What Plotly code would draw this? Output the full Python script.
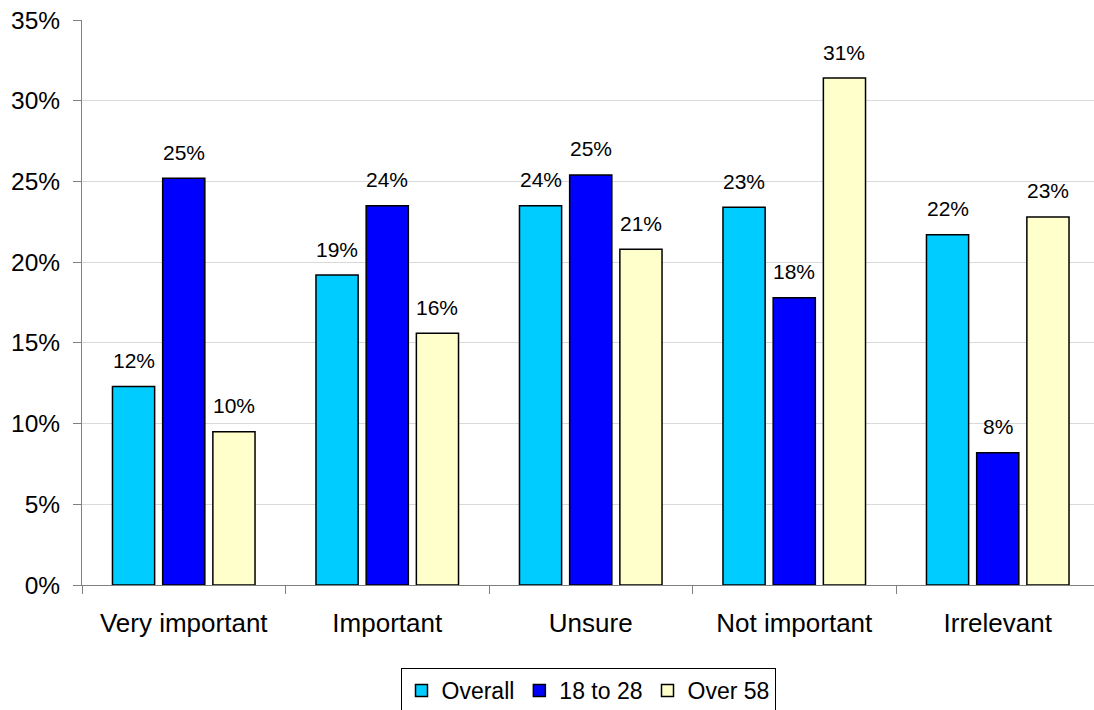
import plotly.graph_objects as go

categories = ["Very important", "Important", "Unsure", "Not important", "Irrelevant"]
series_names = ["Overall", "18 to 28", "Over 58"]
overall = [12.3, 19.2, 23.5, 23.4, 21.7]
age_18_28 = [25.2, 23.5, 25.4, 17.8, 8.2]
over_58 = [9.5, 15.6, 20.8, 31.4, 22.8]
colors = ["#00CCFF", "#0000FF", "#FFFFCC"]
y_ticks = [0, 5, 10, 15, 20, 25, 30, 35]

FONT = "Arial, Liberation Sans, sans-serif"
fig = go.Figure()
all_series = [overall, age_18_28, over_58]
for name, vals, col in zip(series_names, all_series, colors):
    fig.add_trace(go.Bar(
        x=categories, y=vals, name=name,
        marker=dict(color=col, line=dict(color="black", width=1.5)),
    ))

annotations = []
for i, vals in enumerate(all_series):
    for cat, v in zip(categories, vals):
        annotations.append(dict(
            x=cat, y=v, xref="x", yref="y", text=f"{round(v + 1e-9):.0f}%",
            showarrow=False, xshift=(i - 1) * 50, yshift=26, yanchor="middle",
            font=dict(family=FONT, size=21, color="black"),
        ))

fig.update_layout(
    width=1094, height=710,
    margin=dict(l=82, r=0, t=20, b=125, autoexpand=False),
    paper_bgcolor="white", plot_bgcolor="white",
    barmode="group", bargap=0.26, bargroupgap=0.16,
    font=dict(family=FONT, size=23, color="black"),
    showlegend=True,
    legend=dict(orientation="h", x=0.5, xanchor="center",
                yref="container", y=1 - 668 / 710, yanchor="top",
                bordercolor="black", borderwidth=1, font=dict(size=23),
                itemwidth=30, tracegroupgap=0),
    annotations=annotations,
)
fig.update_xaxes(
    range=[-0.5, 4.473], showline=True, linecolor="#808080", linewidth=1,
    ticks="outside", tickson="boundaries", ticklen=8, tickcolor="#808080",
    showgrid=False, tickfont=dict(size=26), ticklabelstandoff=15,
    automargin=False,
)
fig.update_yaxes(
    range=[0, 35], tickvals=y_ticks, ticktext=[f"{t}%" for t in y_ticks],
    showline=True, linecolor="#808080", linewidth=1,
    ticks="outside", ticklen=8, tickcolor="#808080",
    showgrid=True, gridcolor="#D9D9D9", gridwidth=1,
    tickfont=dict(size=24.5), ticklabelstandoff=8, zeroline=False,
    automargin=False,
)
fig.write_html("out.html")
